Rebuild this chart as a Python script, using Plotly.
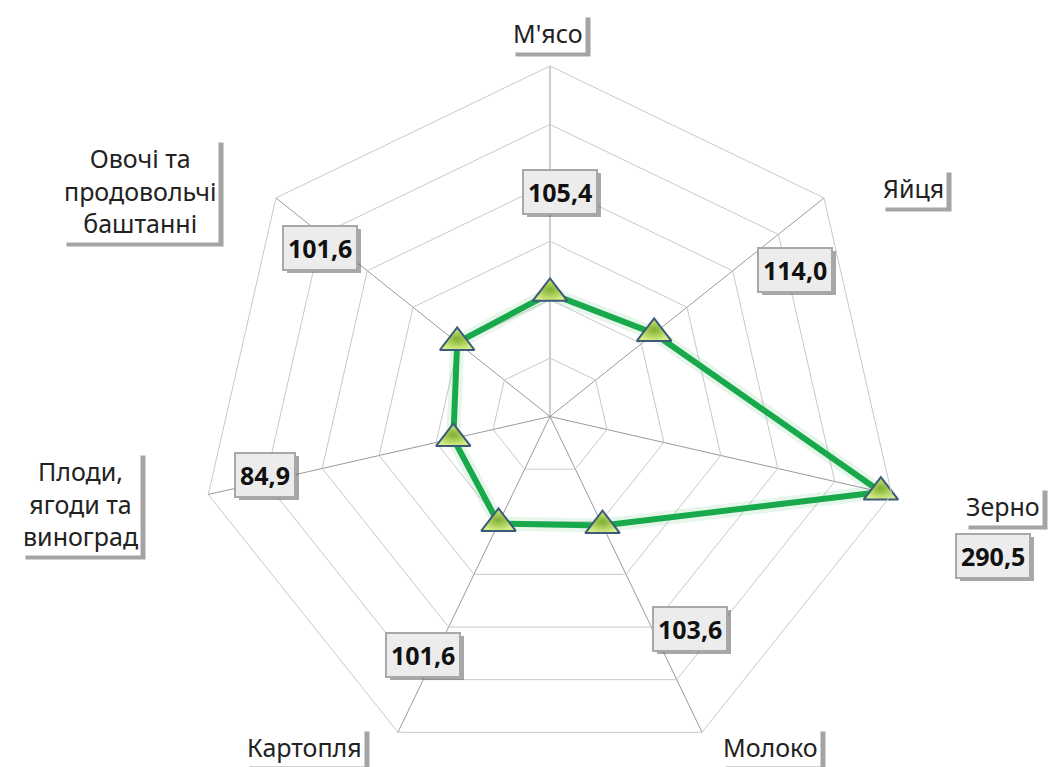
import plotly.graph_objects as go

categories = ["М'ясо", "Яйця", "Зерно", "Молоко", "Картопля",
              "Плоди, ягоди та виноград", "Овочі та продовольчі баштанні"]
values = [105.4, 114.0, 290.5, 103.6, 101.6, 84.9, 101.6]
value_labels = ["105,4", "114,0", "290,5", "103,6", "101,6", "84,9", "101,6"]
cat_labels = ["М'ясо", "Яйця", "Зерно", "Молоко", "Картопля",
              "Плоди,<br>ягоди та<br>виноград", "Овочі та<br>продовольчі<br>баштанні"]

W, H = 1051, 767
top, bot = 66, 0
# label positions in pixels (layout only)
cat_pos = [(548, 33), (913, 188), (1003, 506), (770, 747), (304, 747), (80, 503), (140, 190)]
val_pos = [(560, 192), (795, 270), (993, 556), (690, 629), (423, 655), (265, 475), (320, 248)]


def px_to_paper(px, py):
    return px / W, (H - bot - py) / (H - top - bot)


theta = categories + [categories[0]]
r = values + [values[0]]

fig = go.Figure()
# soft glow under the line
fig.add_trace(go.Scatterpolar(r=r, theta=theta, mode="lines",
                              line=dict(color="rgba(60,180,80,0.12)", width=14),
                              hoverinfo="skip", showlegend=False))
fig.add_trace(go.Scatterpolar(r=r, theta=theta, mode="lines",
                              line=dict(color="#17a94b", width=6),
                              showlegend=False))
fig.add_trace(go.Scatterpolar(r=values, theta=categories, mode="markers",
                              marker=dict(symbol="triangle-up", size=30, color="#d4ee84",
                                          gradient=dict(type="radial", color="#7fae30"),
                                          line=dict(color="#3d5a7a", width=2)),
                              showlegend=False))

annotations = []
font_cat = dict(family="Noto Sans, Open Sans, sans-serif", size=25, color="#222222")
font_val = dict(family="Noto Sans, Open Sans, sans-serif", size=25, color="#111111", weight="bold")
common = dict(xref="paper", yref="paper", showarrow=False, xanchor="center", yanchor="middle")

for lab, (px, py) in zip(cat_labels, cat_pos):
    x, y = px_to_paper(px, py)
    annotations.append(dict(common, x=x, y=y, text=lab,
                            font=dict(font_cat, color="rgba(0,0,0,0)"),
                            bgcolor="rgba(90,90,90,0.55)", borderpad=2,
                            xshift=5, yshift=-4, align="center"))
    annotations.append(dict(common, x=x, y=y, text=lab,
                            font=font_cat, bgcolor="white", borderpad=2, align="center"))

for lab, (px, py) in zip(value_labels, val_pos):
    x, y = px_to_paper(px, py)
    annotations.append(dict(common, x=x, y=y, text=lab,
                            font=dict(font_val, color="rgba(0,0,0,0)"),
                            bgcolor="rgba(80,80,80,0.5)", borderpad=4, borderwidth=2,
                            bordercolor="rgba(0,0,0,0)", xshift=4, yshift=-3))
    annotations.append(dict(common, x=x, y=y, text=lab,
                            font=font_val, bgcolor="#ececec", borderpad=4,
                            borderwidth=2, bordercolor="#a8a8a8"))

cx, half = 550, 450
fig.update_layout(
    width=W, height=H,
    margin=dict(l=0, r=0, t=top, b=bot),
    paper_bgcolor="white", plot_bgcolor="white",
    showlegend=False,
    polar=dict(
        domain=dict(x=[(cx - half) / W, (cx + half) / W], y=[0, 1]),
        bgcolor="white",
        gridshape="linear",
        radialaxis=dict(range=[0, 300], dtick=50, showticklabels=False, ticks="",
                        showline=False, gridcolor="#c9c9c9", gridwidth=1),
        angularaxis=dict(direction="clockwise", rotation=90, showticklabels=False,
                         ticks="", linecolor="#c9c9c9", linewidth=1,
                         gridcolor="#9a9a9a", gridwidth=1),
    ),
    annotations=annotations,
)

fig.write_html("out.html", config={"displayModeBar": False},
               post_script="document.body.style.margin='0';")
